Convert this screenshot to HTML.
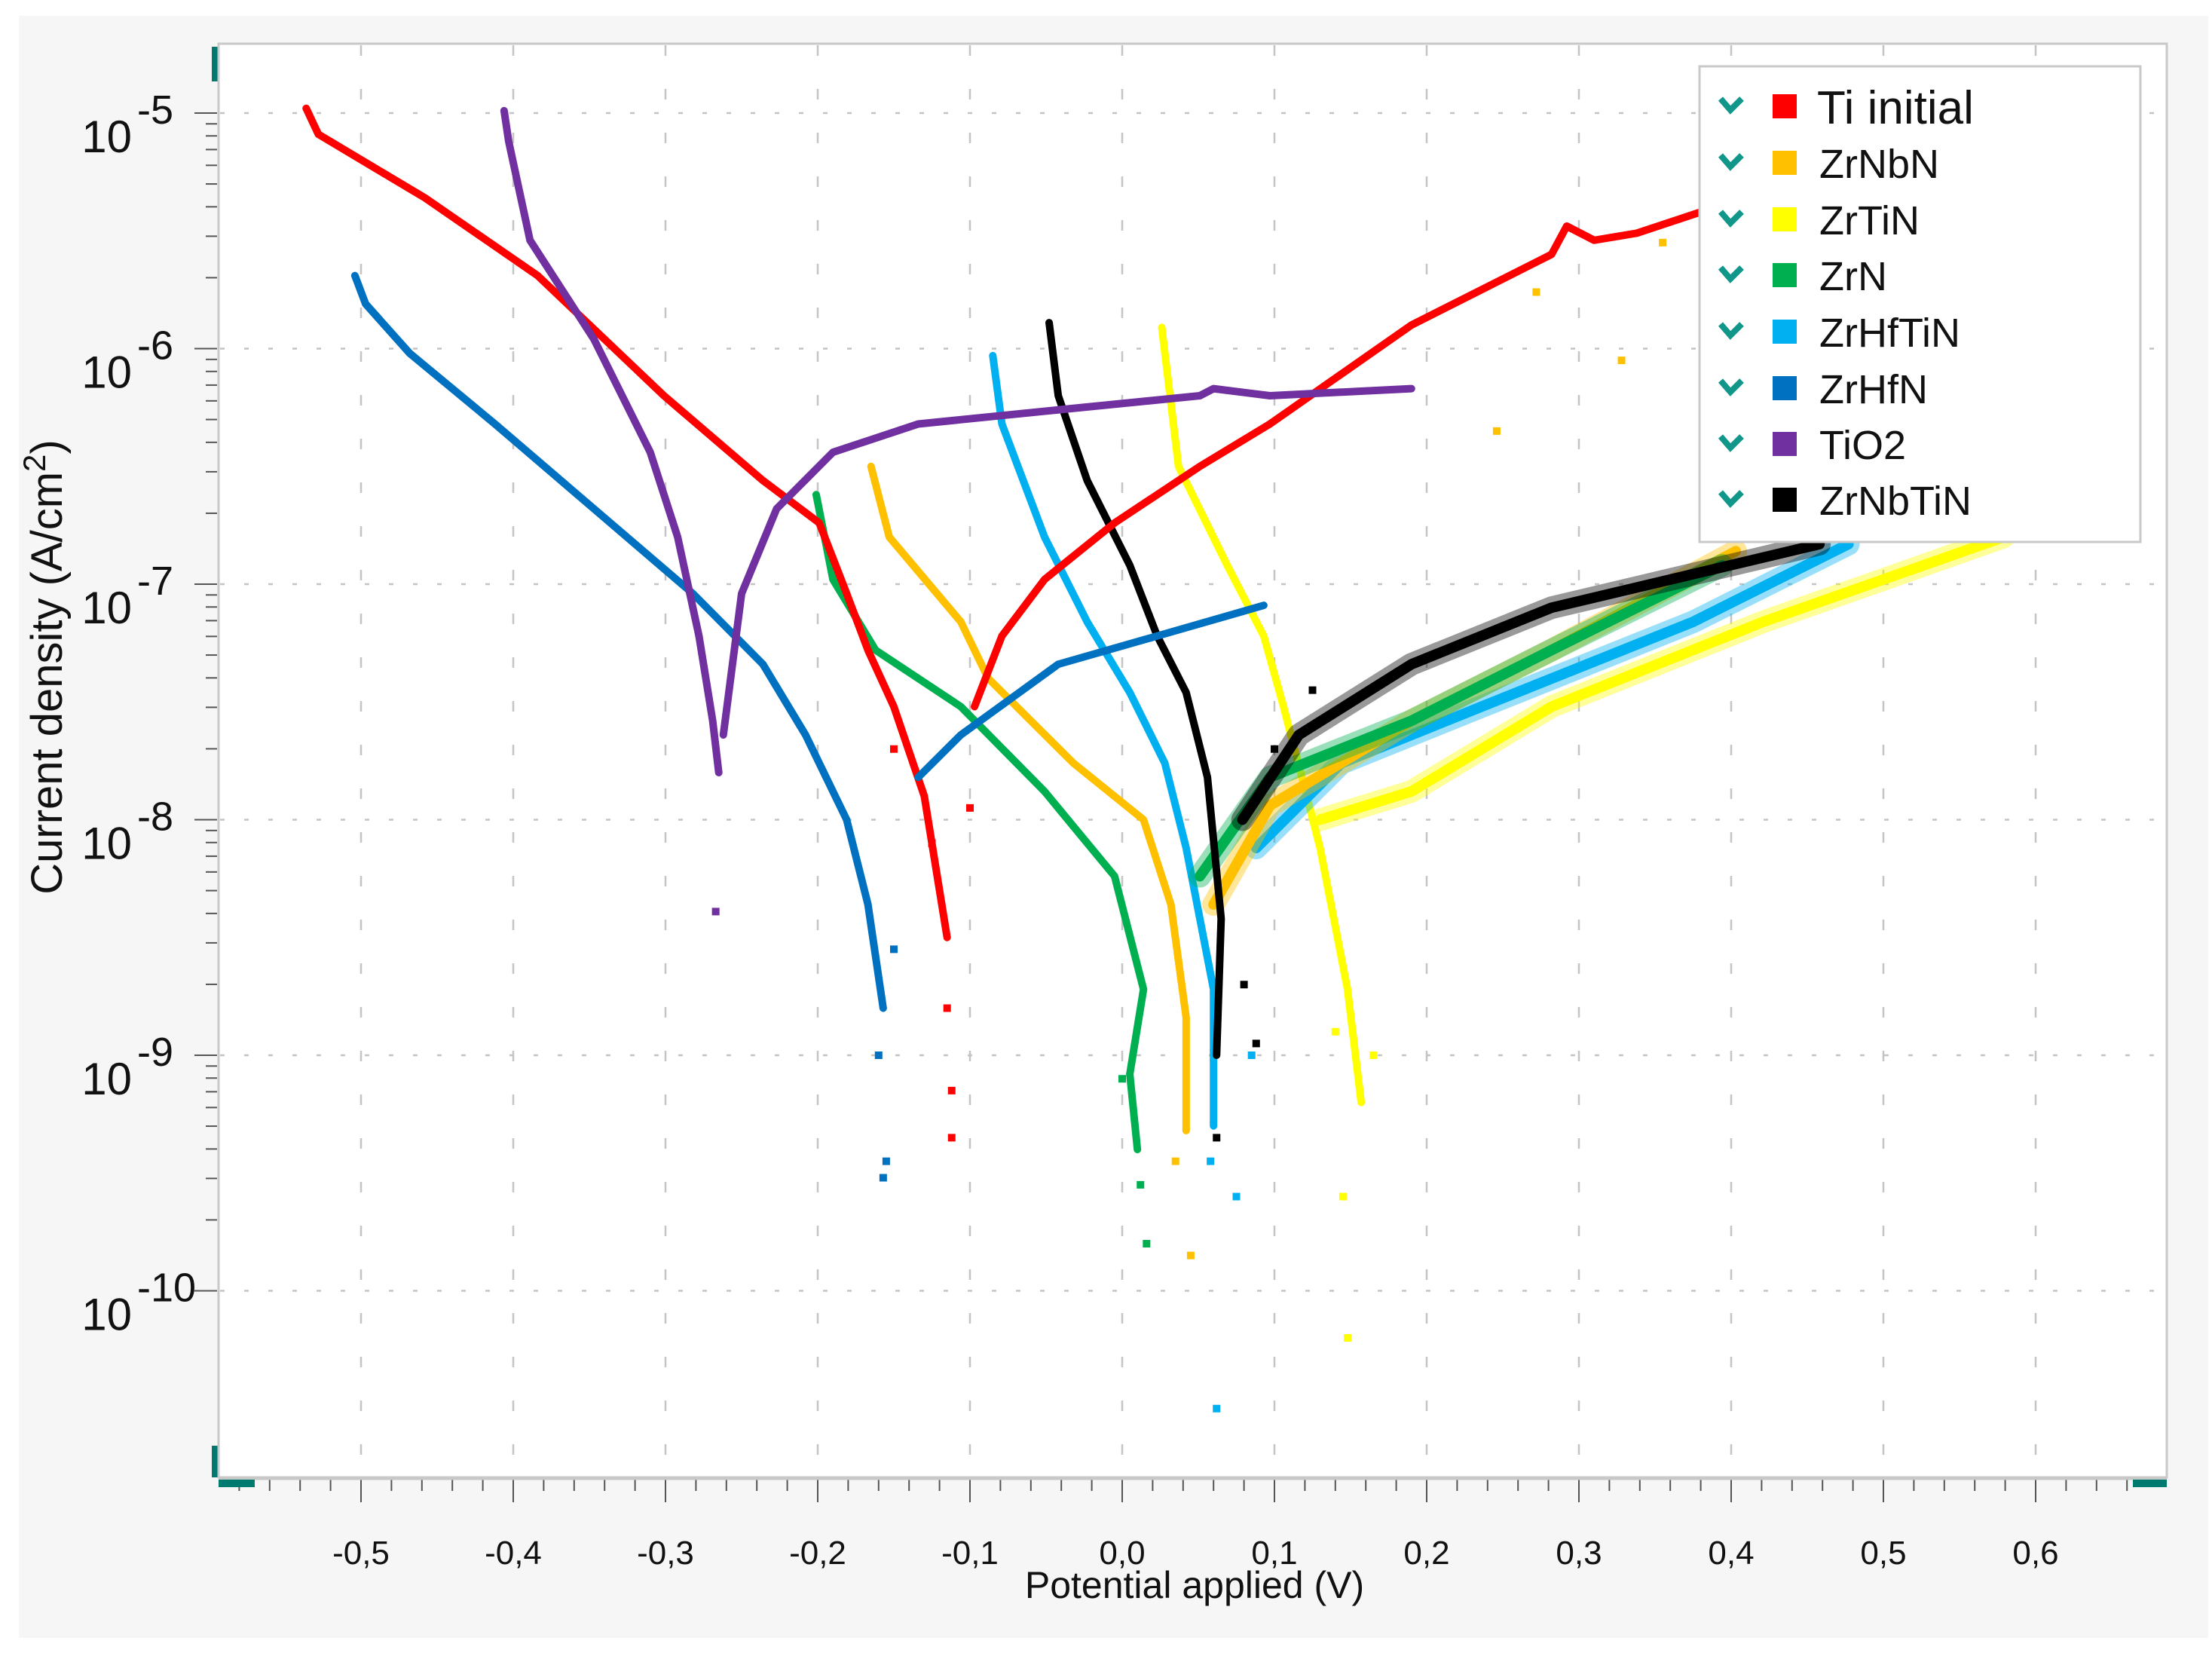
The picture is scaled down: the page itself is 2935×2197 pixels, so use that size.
<!DOCTYPE html>
<html><head><meta charset="utf-8"><style>
html,body{margin:0;padding:0;background:#fff;}
svg{display:block;font-family:"Liberation Sans",sans-serif;}
</style></head><body>
<svg id="chart" width="2935" height="2197" viewBox="0 0 2935 2197" xmlns="http://www.w3.org/2000/svg">
<rect x="25" y="21" width="2905" height="2152" fill="#f6f6f6"/>
<rect x="290" y="58" width="2585" height="1902" fill="#fff" stroke="#c8c8c8" stroke-width="3"/>
<g id="grid"></g>
<g id="axes"></g>
<g id="series"></g>
<text x="1585" y="2120" font-size="50" text-anchor="middle" fill="#111">Potential applied (V)</text>
<text transform="translate(82,885) rotate(-90)" font-size="58" text-anchor="middle" fill="#111">Current density (A/cm<tspan dy="-22" font-size="42">2</tspan><tspan dy="22">)</tspan></text>
<g id="legend">
<rect x="2255" y="88" width="585" height="631" fill="#fff" stroke="#c8c8c8" stroke-width="3"/>
</g>
</svg>
<script>
const xTicks=[-0.5,-0.4,-0.3,-0.2,-0.1,0.0,0.1,0.2,0.3,0.4,0.5,0.6];
const xTickLabels=["-0,5","-0,4","-0,3","-0,2","-0,1","0,0","0,1","0,2","0,3","0,4","0,5","0,6"];
const yDecades=[-5,-6,-7,-8,-9,-10];
const seriesNames=["Ti initial","ZrNbN","ZrTiN","ZrN","ZrHfTiN","ZrHfN","TiO2","ZrNbTiN"];
const seriesColors=["#ff0000","#ffc000","#ffff00","#00b050","#00b0f0","#0070c0","#7030a0","#000000"];
const tiV1=[-0.536,-0.528,-0.458,-0.384,-0.301,-0.236,-0.199,-0.181,-0.167,-0.150,-0.130,-0.115];
const tiL1=[-4.98,-5.09,-5.36,-5.69,-6.20,-6.56,-6.74,-7.04,-7.28,-7.52,-7.90,-8.50];
const tiV2=[-0.097,-0.079,-0.051,-0.005,0.051,0.097,0.190,0.282,0.292,0.310,0.338,0.380];
const tiL2=[-7.52,-7.22,-6.98,-6.74,-6.50,-6.32,-5.90,-5.60,-5.48,-5.54,-5.51,-5.42];
const tiDotsV=[-0.150,-0.125,-0.115,-0.112,-0.112,-0.100];
const tiDotsL=[-7.70,-8.10,-8.80,-9.15,-9.35,-7.95];
const nbV1=[-0.165,-0.153,-0.106,-0.088,-0.032,0.014,0.032,0.042,0.042];
const nbL1=[-6.50,-6.80,-7.16,-7.40,-7.76,-8.00,-8.36,-8.84,-9.32];
const nbV2=[0.060,0.097,0.190,0.282,0.403];
const nbL2=[-8.36,-7.94,-7.58,-7.28,-6.86];
const nbDotsV=[0.272,0.246,0.328,0.355,0.045,0.035];
const nbDotsL=[-5.76,-6.35,-6.05,-5.55,-9.85,-9.45];
const tnV1=[0.026,0.037,0.069,0.093,0.106,0.130,0.148,0.157];
const tnL1=[-5.91,-6.50,-6.92,-7.22,-7.52,-8.12,-8.72,-9.20];
const tnV2=[0.130,0.190,0.282,0.421,0.579];
const tnL2=[-8.00,-7.88,-7.52,-7.16,-6.80];
const tnDotsV=[0.145,0.148,0.140,0.165];
const tnDotsL=[-9.60,-10.20,-8.90,-9.00];
const znV1=[-0.201,-0.190,-0.162,-0.106,-0.051,-0.005,0.014,0.005,0.010];
const znL1=[-6.62,-6.98,-7.28,-7.52,-7.88,-8.24,-8.72,-9.08,-9.40];
const znV2=[0.051,0.097,0.190,0.282,0.394];
const znL2=[-8.24,-7.82,-7.58,-7.28,-6.92];
const znDotsV=[0.016,0.012,0.000];
const znDotsL=[-9.80,-9.55,-9.10];
const htV1=[-0.085,-0.079,-0.051,-0.023,0.005,0.028,0.042,0.060,0.060];
const htL1=[-6.03,-6.32,-6.80,-7.16,-7.46,-7.76,-8.12,-8.72,-9.30];
const htV2=[0.088,0.144,0.236,0.375,0.477];
const htL2=[-8.12,-7.76,-7.52,-7.16,-6.83];
const htDotsV=[0.062,0.075,0.085,0.058];
const htDotsL=[-10.50,-9.60,-9.00,-9.45];
const hfV1=[-0.504,-0.497,-0.468,-0.412,-0.347,-0.282,-0.236,-0.208,-0.181,-0.167,-0.157];
const hfL1=[-5.69,-5.81,-6.02,-6.32,-6.68,-7.04,-7.34,-7.64,-8.00,-8.36,-8.80];
const hfV2=[-0.134,-0.106,-0.042,0.023,0.093];
const hfL2=[-7.82,-7.64,-7.34,-7.22,-7.09];
const hfDotsV=[-0.160,-0.157,-0.155,-0.150];
const hfDotsL=[-9.00,-9.52,-9.45,-8.55];
const toV1=[-0.406,-0.403,-0.389,-0.347,-0.310,-0.292,-0.278,-0.269,-0.265];
const toL1=[-4.99,-5.12,-5.54,-5.96,-6.44,-6.80,-7.22,-7.58,-7.80];
const toV2=[-0.262,-0.250,-0.227,-0.190,-0.134,-0.042,0.051,0.060,0.097,0.190];
const toL2=[-7.64,-7.04,-6.68,-6.44,-6.32,-6.26,-6.20,-6.17,-6.20,-6.17];
const toDotsV=[-0.267];
const toDotsL=[-8.39];
const nbtV1=[-0.048,-0.042,-0.023,0.005,0.023,0.042,0.056,0.065,0.062];
const nbtL1=[-5.89,-6.20,-6.56,-6.92,-7.22,-7.46,-7.82,-8.42,-9.00];
const nbtV2=[0.079,0.116,0.190,0.282,0.458];
const nbtL2=[-8.00,-7.64,-7.34,-7.10,-6.83];
const nbtDotsV=[0.062,0.080,0.088,0.100,0.125];
const nbtDotsL=[-9.35,-8.70,-8.95,-7.70,-7.45];

const X0=1489, XS=2020, Y0=150, YS=312.5;
const xs=v=>X0+v*XS;
const ys=l=>Y0+(-5-l)*YS;
const NS="http://www.w3.org/2000/svg";
function mk(tag,attrs,parent){const e=document.createElementNS(NS,tag);for(const k in attrs)e.setAttribute(k,attrs[k]);parent.appendChild(e);return e;}
const grid=document.getElementById('grid'), axes=document.getElementById('axes'), ser=document.getElementById('series'), leg=document.getElementById('legend');

xTicks.forEach((v,i)=>{
  const g=mk('line',{x1:xs(v),x2:xs(v),y1:60,y2:1958,stroke:'#c4c4c4','stroke-width':2.5,'stroke-dasharray':'14 44'},grid);
  
  
  const t=mk('text',{x:xs(v),y:2075,'font-size':44,'text-anchor':'middle',fill:'#111'},axes);
  t.textContent=xTickLabels[i];
  
  
});
for(let v=-0.58;v<=0.68;v+=0.02){
  const major=Math.abs(Math.round(v*10)-v*10)<0.01;
  if(xs(v)>292&&xs(v)<2873) mk('line',{x1:xs(v),x2:xs(v),y1:1962,y2:major?1993:1978,stroke:'#555','stroke-width':2},axes);
}
mk('line',{x1:290,x2:2875,y1:1961,y2:1961,stroke:'#c8c8c8','stroke-width':5},axes);
mk('rect',{x:290,y:1963,width:48,height:10,fill:'#007a6e'},axes);
mk('rect',{x:2830,y:1963,width:45,height:10,fill:'#007a6e'},axes);
mk('rect',{x:281,y:62,width:10,height:46,fill:'#007a6e'},axes);
mk('rect',{x:281,y:1918,width:10,height:42,fill:'#007a6e'},axes);
mk('line',{x1:290,x2:290,y1:58,y2:1960,stroke:'#c8c8c8','stroke-width':3},axes);

yDecades.forEach(d=>{
  const g=mk('line',{x1:292,x2:2873,y1:ys(d),y2:ys(d),stroke:'#c4c4c4','stroke-width':2.5,'stroke-dasharray':'6 26'},grid);
  
  
  mk('line',{x1:258,x2:288,y1:ys(d),y2:ys(d),stroke:'#555','stroke-width':2},axes);
  for(let m=2;m<=9;m++){const yy=ys(d+Math.log10(m));if(yy>60&&yy<1955)mk('line',{x1:273,x2:288,y1:yy,y2:yy,stroke:'#555','stroke-width':2},axes);}
  const t=mk('text',{x:175,y:ys(d)+52,'font-size':60,'text-anchor':'end',fill:'#111'},axes);
  t.textContent='10';
  
  
  const e=mk('text',{x:182,y:ys(d)+14,'font-size':54,'text-anchor':'start',fill:'#111'},axes);
  e.textContent=String(d);
  
  
});

function line(V,L,color,w,op,name){
  const p=mk('polyline',{points:V.map((v,i)=>xs(v)+','+ys(L[i])).join(' '),fill:'none',stroke:color,'stroke-width':w,'stroke-linejoin':'round','stroke-linecap':'round',opacity:op},ser);
  
  
}
function dots(V,L,color,name){
  V.forEach((v,i)=>{
    const r=mk('rect',{x:xs(v)-5,y:ys(L[i])-5,width:10,height:10,fill:color},ser);
    
    
  });
}
const S=[[tnV1,tnL1,tnV2,tnL2,tnDotsV,tnDotsL,2],[htV1,htL1,htV2,htL2,htDotsV,htDotsL,4],[nbV1,nbL1,nbV2,nbL2,nbDotsV,nbDotsL,1],[znV1,znL1,znV2,znL2,znDotsV,znDotsL,3],[nbtV1,nbtL1,nbtV2,nbtL2,nbtDotsV,nbtDotsL,7],[tiV1,tiL1,tiV2,tiL2,tiDotsV,tiDotsL,0],[hfV1,hfL1,hfV2,hfL2,hfDotsV,hfDotsL,5],[toV1,toL1,toV2,toL2,toDotsV,toDotsL,6]];
S.forEach(s=>{
  const c=seriesColors[s[6]], n=seriesNames[s[6]].toLowerCase().replace(/\s+/g,'-');
  line(s[0],s[1],c,10,1,n+'-cathodic');
  const noisy=[1,2,3,4,7].includes(s[6]);
  if(noisy) line(s[2],s[3],c,30,0.4,n+'-anodic-spread');
  line(s[2],s[3],c,noisy?14:10,1,n+'-anodic');
  dots(s[4],s[5],c,n+'-point');
});

const legY=[141,216,291,365,440,515,589,663];
seriesNames.forEach((nm,i)=>{
  const y=legY[i];
  const ck=mk('path',{d:`M2283 ${y-10} L2296 ${y+5} L2311 ${y-10}`,fill:'none',stroke:'#11968a','stroke-width':8},leg);
  
  
  const sq=mk('rect',{x:2352,y:y-16,width:32,height:32,fill:seriesColors[i]},leg);
  
  
  const t=mk('text',{x:i==0?2411:2414,y:y+(i==0?23:20),'font-size':i==0?62:54,fill:'#111'},leg);
  t.textContent=nm;
  
  
});
</script>
</body></html>
